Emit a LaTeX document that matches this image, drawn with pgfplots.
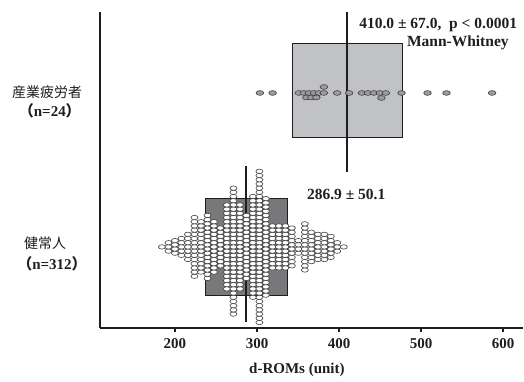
\documentclass[border=0pt]{standalone}
\usepackage{fontspec}
\setmainfont{Liberation Serif}
\newfontfamily\cjk{Noto Sans CJK JP}
\usepackage{pgfplots}
\pgfplotsset{compat=1.18}
\definecolor{boxA}{RGB}{193,194,198}
\definecolor{boxB}{RGB}{120,120,122}
\definecolor{dotA}{RGB}{155,155,160}
\definecolor{ink}{RGB}{30,30,30}
\pgfdeclareplotmark{ell}{%
  \pgfpathellipse{\pgfpointorigin}{\pgfqpoint{1.6\pgfplotmarksize}{0pt}}{\pgfqpoint{0pt}{\pgfplotmarksize}}%
  \pgfusepathqfillstroke}
\begin{document}
\begin{tikzpicture}
\begin{axis}[
 scale only axis, width=423pt, height=316pt,
 xmin=108.6, xmax=623.9, ymin=0, ymax=316,
 axis x line*=bottom, axis y line*=left,
 x axis line style={line width=2.4pt, draw=ink, -},
 y axis line style={line width=2.2pt, draw=ink, -},
 ytick=\empty,
 xtick={200,300,400,500,600},
 tick align=outside, major tick length=4.5pt,
 every tick/.style={line width=1.8pt, draw=ink},
 xticklabel style={font=\bfseries\fontsize{15}{17}\selectfont, text=ink, yshift=-3pt},
 /pgf/number format/assume math mode=true,
 clip=false,
]
% bounding area of the whole picture
\path (axis cs:-13.2,-54) rectangle (axis cs:625.1,328);

% ---- top group (n=24): mean 410.0, SD 67.0
\addplot[fill=boxA, draw=ink, line width=0.9pt] coordinates {(343,190) (477,190) (477,285) (343,285)} -- cycle;
\addplot[only marks, mark=ell, mark size=2.4pt, mark options={fill=dotA, draw=ink!85, line width=0.6pt}] coordinates {
(303.5,235) (319.0,235)
(351.0,235) (357.1,235) (363.2,235) (369.3,235) (375.4,235) (381.5,235)
(360.1,230.5) (366.2,230.5) (372.3,230.5) (381.5,241)
(397.7,235) (412.3,235)
(427.8,235) (435.1,235) (442.4,235) (449.7,235) (457.0,235) (451.6,230)
(476.1,235) (507.8,235) (530.9,235) (586.5,235)
};
\addplot[line width=2pt, draw=ink] coordinates {(410,156) (410,316)};

% ---- bottom group (n=312): mean 286.9, SD 50.1
\addplot[fill=boxB, draw=ink, line width=0.9pt] coordinates {(236.8,32) (337,32) (337,129) (236.8,129)} -- cycle;
\addplot[line width=2pt, draw=ink] coordinates {(286.9,6) (286.9,162)};
\addplot[only marks, mark=ell, mark size=2.2pt, mark options={fill=white, draw=ink!85, line width=0.6pt}] coordinates {
(184.2,81)
(192.1,76.8) (192.1,81) (192.1,85.2)
(200.0,74.7) (200.0,78.9) (200.0,83.1) (200.0,87.3)
(207.9,72.6) (207.9,76.8) (207.9,81) (207.9,85.2) (207.9,89.4)
(215.8,68.4) (215.8,72.6) (215.8,76.8) (215.8,81) (215.8,85.2) (215.8,89.4) (215.8,93.6)
(223.8,51.6) (223.8,55.8) (223.8,60) (223.8,64.2) (223.8,68.4) (223.8,72.6) (223.8,76.8) (223.8,81) (223.8,85.2) (223.8,89.4) (223.8,93.6) (223.8,97.8) (223.8,102) (223.8,106.2) (223.8,110.4)
(231.7,55.8) (231.7,60) (231.7,64.2) (231.7,68.4) (231.7,72.6) (231.7,76.8) (231.7,81) (231.7,85.2) (231.7,89.4) (231.7,93.6) (231.7,97.8) (231.7,102) (231.7,106.2)
(239.6,49.5) (239.6,53.7) (239.6,57.9) (239.6,62.1) (239.6,66.3) (239.6,70.5) (239.6,74.7) (239.6,78.9) (239.6,83.1) (239.6,87.3) (239.6,91.5) (239.6,95.7) (239.6,99.9) (239.6,104.1) (239.6,108.3) (239.6,112.5)
(247.5,55.8) (247.5,60) (247.5,64.2) (247.5,68.4) (247.5,72.6) (247.5,76.8) (247.5,81) (247.5,85.2) (247.5,89.4) (247.5,93.6) (247.5,97.8) (247.5,102) (247.5,106.2)
(255.4,62.1) (255.4,66.3) (255.4,70.5) (255.4,74.7) (255.4,78.9) (255.4,83.1) (255.4,87.3) (255.4,91.5) (255.4,95.7) (255.4,99.9)
(263.3,39) (263.3,43.2) (263.3,47.4) (263.3,51.6) (263.3,55.8) (263.3,60) (263.3,64.2) (263.3,68.4) (263.3,72.6) (263.3,76.8) (263.3,81) (263.3,85.2) (263.3,89.4) (263.3,93.6) (263.3,97.8) (263.3,102) (263.3,106.2) (263.3,110.4) (263.3,114.6) (263.3,118.8) (263.3,123)
(271.3,13.8) (271.3,18) (271.3,22.2) (271.3,26.4) (271.3,30.6) (271.3,34.8) (271.3,39) (271.3,43.2) (271.3,47.4) (271.3,51.6) (271.3,55.8) (271.3,60) (271.3,64.2) (271.3,68.4) (271.3,72.6) (271.3,76.8) (271.3,81) (271.3,85.2) (271.3,89.4) (271.3,93.6) (271.3,97.8) (271.3,102) (271.3,106.2) (271.3,110.4) (271.3,114.6) (271.3,118.8) (271.3,123) (271.3,127.2) (271.3,131.4) (271.3,135.6) (271.3,139.8)
(279.2,39) (279.2,43.2) (279.2,47.4) (279.2,51.6) (279.2,55.8) (279.2,60) (279.2,64.2) (279.2,68.4) (279.2,72.6) (279.2,76.8) (279.2,81) (279.2,85.2) (279.2,89.4) (279.2,93.6) (279.2,97.8) (279.2,102) (279.2,106.2) (279.2,110.4) (279.2,114.6) (279.2,118.8) (279.2,123)
(287.1,49.5) (287.1,53.7) (287.1,57.9) (287.1,62.1) (287.1,66.3) (287.1,70.5) (287.1,74.7) (287.1,78.9) (287.1,83.1) (287.1,87.3) (287.1,91.5) (287.1,95.7) (287.1,99.9) (287.1,104.1) (287.1,108.3) (287.1,112.5)
(295.0,30.6) (295.0,34.8) (295.0,39) (295.0,43.2) (295.0,47.4) (295.0,51.6) (295.0,55.8) (295.0,60) (295.0,64.2) (295.0,68.4) (295.0,72.6) (295.0,76.8) (295.0,81) (295.0,85.2) (295.0,89.4) (295.0,93.6) (295.0,97.8) (295.0,102) (295.0,106.2) (295.0,110.4) (295.0,114.6) (295.0,118.8) (295.0,123) (295.0,127.2) (295.0,131.4)
(302.9,5.4) (302.9,9.6) (302.9,13.8) (302.9,18) (302.9,22.2) (302.9,26.4) (302.9,30.6) (302.9,34.8) (302.9,39) (302.9,43.2) (302.9,47.4) (302.9,51.6) (302.9,55.8) (302.9,60) (302.9,64.2) (302.9,68.4) (302.9,72.6) (302.9,76.8) (302.9,81) (302.9,85.2) (302.9,89.4) (302.9,93.6) (302.9,97.8) (302.9,102) (302.9,106.2) (302.9,110.4) (302.9,114.6) (302.9,118.8) (302.9,123) (302.9,127.2) (302.9,131.4) (302.9,135.6) (302.9,139.8) (302.9,144) (302.9,148.2) (302.9,152.4) (302.9,156.6)
(310.8,32.7) (310.8,36.9) (310.8,41.1) (310.8,45.3) (310.8,49.5) (310.8,53.7) (310.8,57.9) (310.8,62.1) (310.8,66.3) (310.8,70.5) (310.8,74.7) (310.8,78.9) (310.8,83.1) (310.8,87.3) (310.8,91.5) (310.8,95.7) (310.8,99.9) (310.8,104.1) (310.8,108.3) (310.8,112.5) (310.8,116.7) (310.8,120.9) (310.8,125.1) (310.8,129.3)
(318.8,60) (318.8,64.2) (318.8,68.4) (318.8,72.6) (318.8,76.8) (318.8,81) (318.8,85.2) (318.8,89.4) (318.8,93.6) (318.8,97.8) (318.8,102)
(326.7,60) (326.7,64.2) (326.7,68.4) (326.7,72.6) (326.7,76.8) (326.7,81) (326.7,85.2) (326.7,89.4) (326.7,93.6) (326.7,97.8) (326.7,102)
(334.6,60) (334.6,64.2) (334.6,68.4) (334.6,72.6) (334.6,76.8) (334.6,81) (334.6,85.2) (334.6,89.4) (334.6,93.6) (334.6,97.8) (334.6,102)
(342.5,62.1) (342.5,66.3) (342.5,70.5) (342.5,74.7) (342.5,78.9) (342.5,83.1) (342.5,87.3) (342.5,91.5) (342.5,95.7) (342.5,99.9)
(350.4,74.7) (350.4,78.9) (350.4,83.1) (350.4,87.3)
(358.3,57.9) (358.3,62.1) (358.3,66.3) (358.3,70.5) (358.3,74.7) (358.3,78.9) (358.3,83.1) (358.3,87.3) (358.3,91.5) (358.3,95.7) (358.3,99.9) (358.3,104.1)
(366.3,66.3) (366.3,70.5) (366.3,74.7) (366.3,78.9) (366.3,83.1) (366.3,87.3) (366.3,91.5) (366.3,95.7)
(374.2,68.4) (374.2,72.6) (374.2,76.8) (374.2,81) (374.2,85.2) (374.2,89.4) (374.2,93.6)
(382.1,68.4) (382.1,72.6) (382.1,76.8) (382.1,81) (382.1,85.2) (382.1,89.4) (382.1,93.6)
(390.0,70.5) (390.0,74.7) (390.0,78.9) (390.0,83.1) (390.0,87.3) (390.0,91.5)
(397.9,76.8) (397.9,81) (397.9,85.2)
(405.8,81)
};

% ---- annotations
\node[anchor=west, text=ink, font=\bfseries\fontsize{15.5}{17}\selectfont, inner sep=0pt] at (axis cs:424.5,303) {410.0 ± 67.0,\ \ p < 0.0001};
\node[anchor=west, text=ink, font=\bfseries\fontsize{15.5}{17}\selectfont, inner sep=0pt] at (axis cs:482.6,285) {Mann-Whitney};
\node[anchor=west, text=ink, font=\bfseries\fontsize{15.5}{17}\selectfont, inner sep=0pt] at (axis cs:360.8,133) {286.9 ± 50.1};
\node[text=ink, font=\bfseries\fontsize{15}{17}\selectfont, inner sep=0pt] at (axis cs:348.6,-42) {d-ROMs (unit)};
% category labels
\node[text=ink, font=\cjk\fontsize{14}{16}\selectfont, inner sep=0pt] at (axis cs:44.1,236) {産業疲労者};
\node[text=ink, font=\bfseries\fontsize{15}{17}\selectfont, inner sep=0pt] at (axis cs:47.5,217) {{\cjk （}n=24{\cjk ）}};
\node[text=ink, font=\cjk\fontsize{14}{16}\selectfont, inner sep=0pt] at (axis cs:41.7,85) {健常人};
\node[text=ink, font=\bfseries\fontsize{15}{17}\selectfont, inner sep=0pt] at (axis cs:50.2,64) {{\cjk （}n=312{\cjk ）}};
\end{axis}
\end{tikzpicture}
\end{document}
